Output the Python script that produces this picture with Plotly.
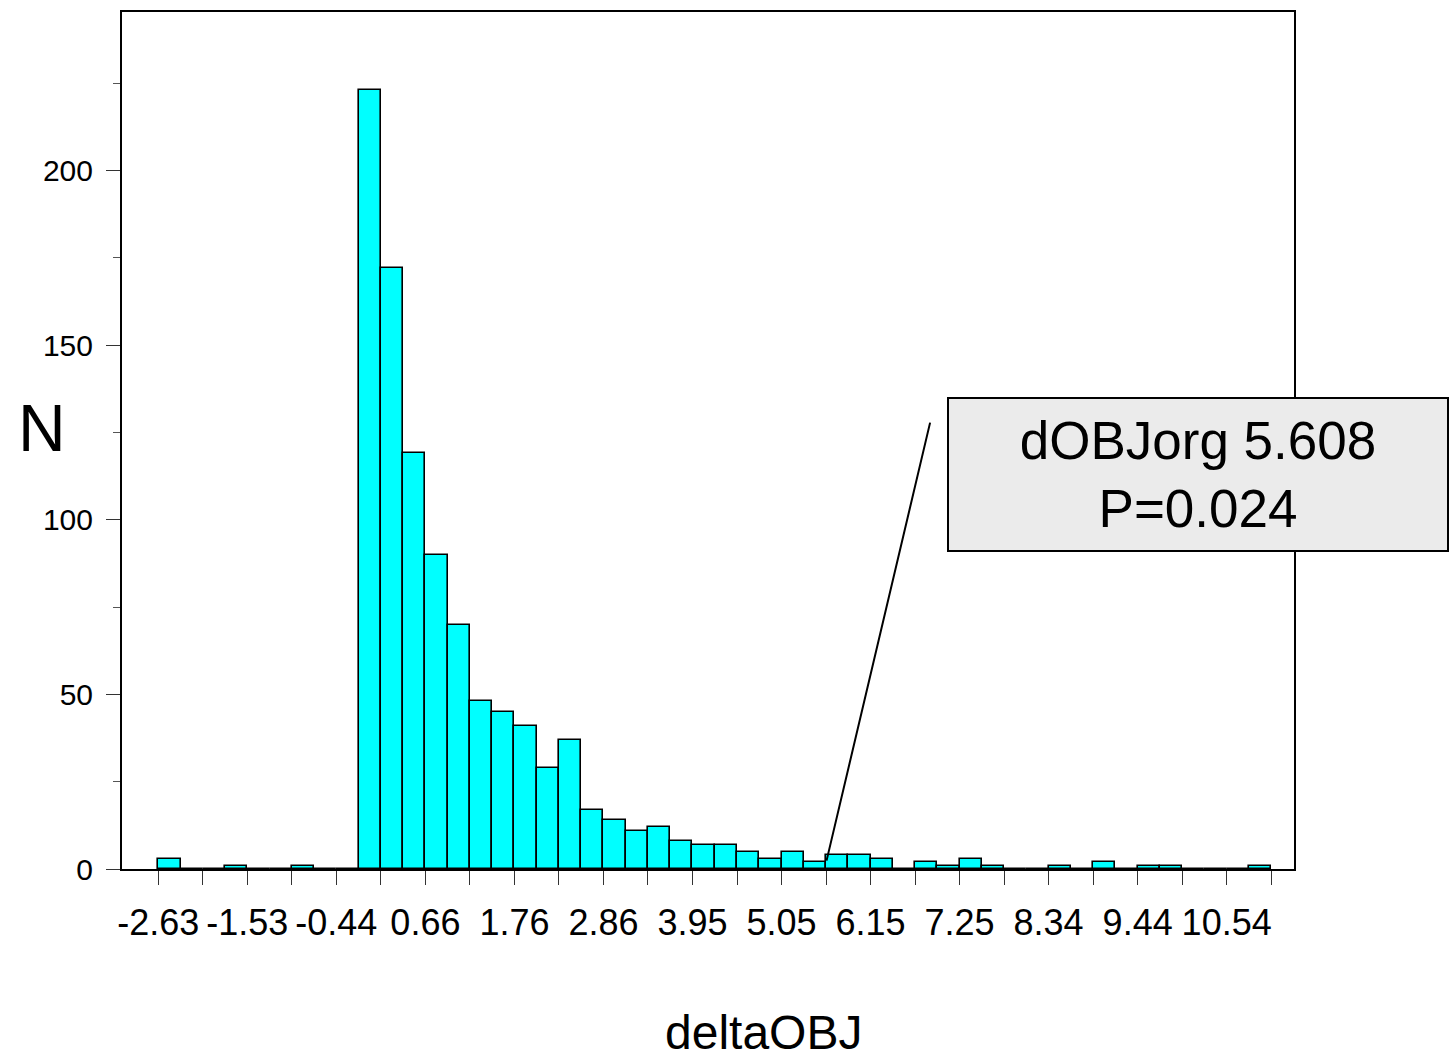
import plotly.graph_objects as go

# ---- data ----
bin_start = -2.63
bin_width = 0.27438
counts = [3, 0, 0, 1, 0, 0, 1, 0, 0, 223,
          172, 119, 90, 70, 48, 45, 41, 29, 37, 17,
          14, 11, 12, 8, 7, 7, 5, 3, 5, 2,
          4, 4, 3, 0, 2, 1, 3, 1, 0, 0,
          1, 0, 2, 0, 1, 1, 0, 0, 0, 1]
tick_labels = ["-2.63", "-1.53", "-0.44", "0.66", "1.76", "2.86", "3.95",
               "5.05", "6.15", "7.25", "8.34", "9.44", "10.54"]
observed_value = 5.608
observed_label = "dOBJorg 5.608<br>P=0.024"
x_title = "deltaOBJ"
y_title = "N"

FONT = "Liberation Sans, Arial, sans-serif"

n = len(counts)
centers = [bin_start + (i + 0.5) * bin_width for i in range(n)]
edges = [bin_start + i * bin_width for i in range(n + 1)]

tickvals = edges[::2]
ticktext = [tick_labels[k // 2] if k % 2 == 0 and k // 2 < len(tick_labels) else ""
            for k in range(len(tickvals))]

W, H = 1450, 1060
L, R, T, B = 122, 1450 - 1294, 10, 1060 - 869
pw, ph = W - L - R, H - T - B

def px_x(p):
    return (p - L) / pw

def px_y(p):
    return 1 - (p - T) / ph

fig = go.Figure()
fig.add_trace(go.Bar(
    x=centers, y=counts, width=[bin_width] * n,
    marker=dict(color="#00ffff", line=dict(color="black", width=1.6)),
    showlegend=False, hoverinfo="skip",
))

xr0 = bin_start - 36.3 / 81.12
xr1 = bin_start + (1294 - 158.3) / 81.12
fig.update_layout(
    width=W, height=H,
    margin=dict(l=L, r=R, t=T, b=B, pad=0),
    paper_bgcolor="white", plot_bgcolor="white",
    bargap=0,
    font=dict(family=FONT, color="black"),
    xaxis=dict(
        range=[xr0, xr1], tickmode="array", tickvals=tickvals, ticktext=ticktext,
        ticks="outside", ticklen=14, tickwidth=1, tickcolor="#333",
        showline=True, linecolor="black", linewidth=2, mirror=True,
        showgrid=False, zeroline=False,
        tickfont=dict(size=36, family=FONT, color="black"),
        ticklabelstandoff=7,
    ),
    yaxis=dict(
        range=[0, 860 / 3.505], tickmode="array", tickvals=[0, 50, 100, 150, 200],
        ticks="outside", ticklen=14, tickwidth=1, tickcolor="#333",
        minor=dict(tickvals=[25, 75, 125, 175, 225], ticks="outside", ticklen=7,
                   tickwidth=1, tickcolor="#555", showgrid=False),
        showline=True, linecolor="black", linewidth=2, mirror=True,
        showgrid=False, zeroline=False,
        tickfont=dict(size=30, family=FONT, color="black"),
        ticklabelstandoff=7,
    ),
)

# axis titles as annotations
fig.add_annotation(xref="paper", yref="paper", x=px_x(763), y=px_y(1059),
                   text=x_title, showarrow=False, xanchor="center", yanchor="bottom",
                   borderpad=0, borderwidth=0,
                   font=dict(size=48, family=FONT, color="black"))
fig.add_annotation(xref="paper", yref="paper", x=px_x(42), y=px_y(427),
                   text=y_title, showarrow=False, xanchor="center", yanchor="middle",
                   font=dict(size=66, family=FONT, color="black"))

# callout line pointing at the observed value
fig.add_annotation(x=observed_value, y=2.4, xref="x", yref="y",
                   text=" ", font=dict(size=1), showarrow=True,
                   arrowhead=0, arrowwidth=2, arrowcolor="black",
                   ax=104, ay=-440, standoff=0, startstandoff=0)

# callout box
fig.add_annotation(xref="paper", yref="paper", x=px_x(947), y=px_y(396),
                   xanchor="left", yanchor="top", showarrow=False,
                   text=observed_label, align="center",
                   width=498, height=151, borderpad=0, borderwidth=2,
                   bordercolor="black", bgcolor="#ebebeb",
                   font=dict(size=53, family=FONT, color="black"))

fig.write_html("out.html", config={"displayModeBar": False},
               post_script="document.body.style.margin='0';document.body.style.padding='0';")
